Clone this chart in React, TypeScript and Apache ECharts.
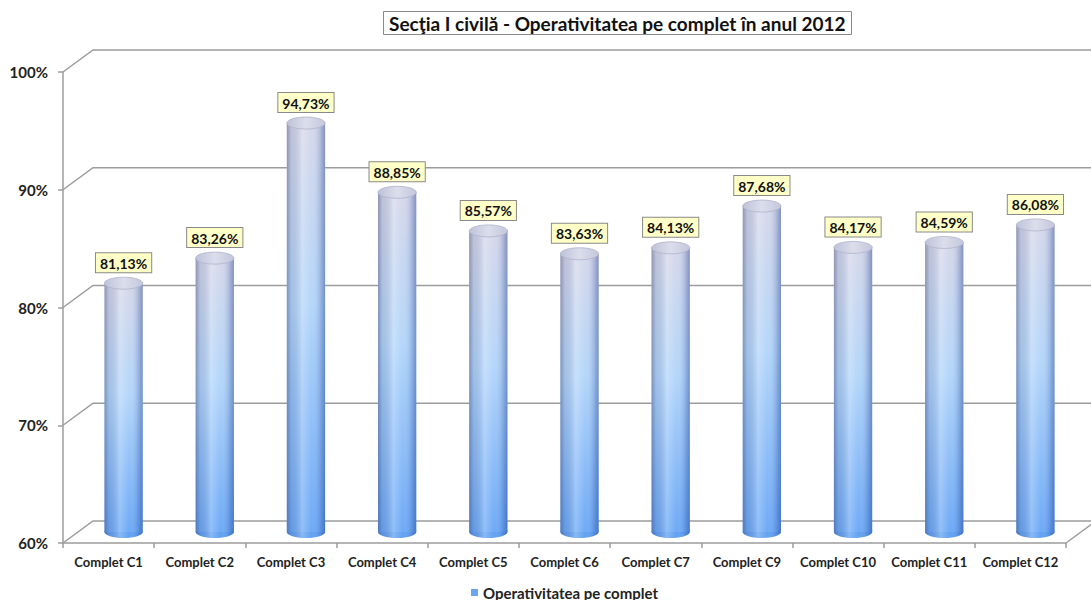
import React, { useEffect, useRef } from "react";
import * as echarts from "echarts";

const categories = [
  "Complet C1", "Complet C2", "Complet C3", "Complet C4", "Complet C5", "Complet C6",
  "Complet C7", "Complet C9", "Complet C10", "Complet C11", "Complet C12",
];
const values = [81.13, 83.26, 94.73, 88.85, 85.57, 83.63, 84.13, 87.68, 84.17, 84.59, 86.08];
const yTicks = [60, 70, 80, 90, 100];
const seriesName = "Operativitatea pe complet";
const titleText = "Secţia I civilă - Operativitatea pe complet în anul 2012";

const FONT = "Lato, 'Liberation Sans', sans-serif";
const WALL_DX = 30;
const WALL_DY = 22;
const GRID_COLOR = "#9c9c9c";

export default function App() {
  const ref = useRef<HTMLDivElement>(null);
  useEffect(() => {
    if (!ref.current) return;
    const chart = echarts.init(ref.current, undefined, { renderer: "svg" });
    const option: any = {
      animation: false,
      backgroundColor: "#ffffff",
      title: {
        text: titleText,
        left: 383,
        top: 11,
        padding: [3, 6, 2, 6],
        borderColor: "#8a8a8a",
        borderWidth: 1,
        textStyle: { fontFamily: FONT, fontWeight: "bold", fontSize: 19, color: "#111" },
      },
      legend: {
        data: [seriesName],
        left: 466,
        top: 580,
        icon: "rect",
        itemWidth: 7,
        itemHeight: 7,
        itemGap: 4,
        textStyle: { fontFamily: FONT, fontWeight: "bold", fontSize: 15, color: "#222" },
      },
      grid: { left: 63, right: 25, top: 72, bottom: 57 },
      xAxis: {
        type: "category",
        data: categories,
        axisLine: { show: true, lineStyle: { color: GRID_COLOR, width: 1.5 } },
        axisTick: { show: true, length: 5, lineStyle: { color: GRID_COLOR, width: 1.5 } },
        axisLabel: { fontFamily: FONT, fontWeight: "bold", fontSize: 13, color: "#222", margin: 12, interval: 0 },
        splitLine: { show: false },
      },
      yAxis: {
        type: "value",
        min: 60,
        max: 100,
        interval: 10,
        axisLine: { show: true, lineStyle: { color: GRID_COLOR, width: 1.5 } },
        axisTick: { show: true, length: 5, lineStyle: { color: GRID_COLOR, width: 1.5 } },
        axisLabel: {
          fontFamily: FONT, fontWeight: "bold", fontSize: 15, color: "#222", margin: 15,
          formatter: (v: number) => `${v}%`,
        },
        splitLine: { show: false },
      },
      series: [
        {
          type: "custom",
          name: "wall",
          silent: true,
          z: 1,
          data: yTicks.map((t) => [0, t]),
          renderItem: (params: any, api: any) => {
            const v = api.value(1);
            const cs = params.coordSys;
            const y = api.coord([0, v])[1];
            const x0 = cs.x;
            const x1 = cs.x + cs.width;
            const children: any[] = [
              {
                type: "polyline",
                shape: { points: [[x0, y], [x0 + WALL_DX, y - WALL_DY], [x1 + WALL_DX + 10, y - WALL_DY]] },
                style: { stroke: GRID_COLOR, lineWidth: 1.5, fill: "none" },
              },
            ];
            if (v === yTicks[0]) {
              children.push({
                type: "line",
                shape: { x1: x1, y1: y, x2: x1 + WALL_DX, y2: y - WALL_DY },
                style: { stroke: GRID_COLOR, lineWidth: 1.5 },
              });
            }
            return { type: "group", children };
          },
        },
        {
          type: "custom",
          name: seriesName,
          z: 5,
          itemStyle: { color: "#6aa6f0" },
          data: values.map((v, i) => [i, v]),
          renderItem: (params: any, api: any) => {
            const i = api.value(0);
            const v = api.value(1);
            const topPt = api.coord([i, v]);
            const basePt = api.coord([i, yTicks[0]]);
            const dx = WALL_DX / 2;
            const dy = WALL_DY / 2;
            const cx = topPt[0] + dx;
            const ty = topPt[1] - dy;
            const by = basePt[1] - dy;
            const w = api.size([1, 0])[0] * 0.42;
            const rx = w / 2;
            const ry = 6;
            const vGrad = new echarts.graphic.LinearGradient(0, 0, 0, 1, [
              { offset: 0, color: "#d6d8ea" },
              { offset: 0.45, color: "#b4d6fa" },
              { offset: 1, color: "#6eaaf6" },
            ]);
            const hGrad = new echarts.graphic.LinearGradient(0, 0, 1, 0, [
              { offset: 0, color: "rgba(30,40,90,0.38)" },
              { offset: 0.12, color: "rgba(30,40,90,0.12)" },
              { offset: 0.4, color: "rgba(255,255,255,0.25)" },
              { offset: 0.65, color: "rgba(255,255,255,0.0)" },
              { offset: 0.88, color: "rgba(10,40,130,0.18)" },
              { offset: 1, color: "rgba(10,40,130,0.4)" },
            ]);
            const topGrad = new echarts.graphic.LinearGradient(0, 0, 1, 0, [
              { offset: 0, color: "#bfc2d8" },
              { offset: 0.5, color: "#dcdeec" },
              { offset: 1, color: "#c4c7dc" },
            ]);
            const label = v.toFixed(2).replace(".", ",") + "%";
            return {
              type: "group",
              children: [
                { type: "ellipse", shape: { cx, cy: by, rx, ry }, style: { fill: "#62a2f2" } },
                { type: "ellipse", shape: { cx, cy: by, rx, ry }, style: { fill: hGrad } },
                { type: "rect", shape: { x: cx - rx, y: ty, width: w, height: by - ty }, style: { fill: vGrad } },
                { type: "rect", shape: { x: cx - rx, y: ty, width: w, height: by - ty }, style: { fill: hGrad } },
                {
                  type: "ellipse",
                  shape: { cx, cy: ty, rx, ry },
                  style: { fill: topGrad, stroke: "#b0b3cb", lineWidth: 0.8 },
                },
                {
                  type: "text",
                  x: cx,
                  y: ty - ry - 5,
                  z2: 10,
                  style: {
                    text: label,
                    font: `bold 14px ${FONT}`,
                    fill: "#111",
                    align: "center",
                    verticalAlign: "bottom",
                    textAlign: "center",
                    textVerticalAlign: "bottom",
                    backgroundColor: "#ffffc8",
                    borderColor: "#8a8a8a",
                    borderWidth: 1,
                    padding: [3, 4, 2, 4],
                  },
                },
              ],
            };
          },
        },
      ],
    };
    chart.setOption(option);
    return () => chart.dispose();
  }, []);
  return <div ref={ref} style={{ width: 1091, height: 600, position: "absolute", left: 0, top: 0 }} />;
}
